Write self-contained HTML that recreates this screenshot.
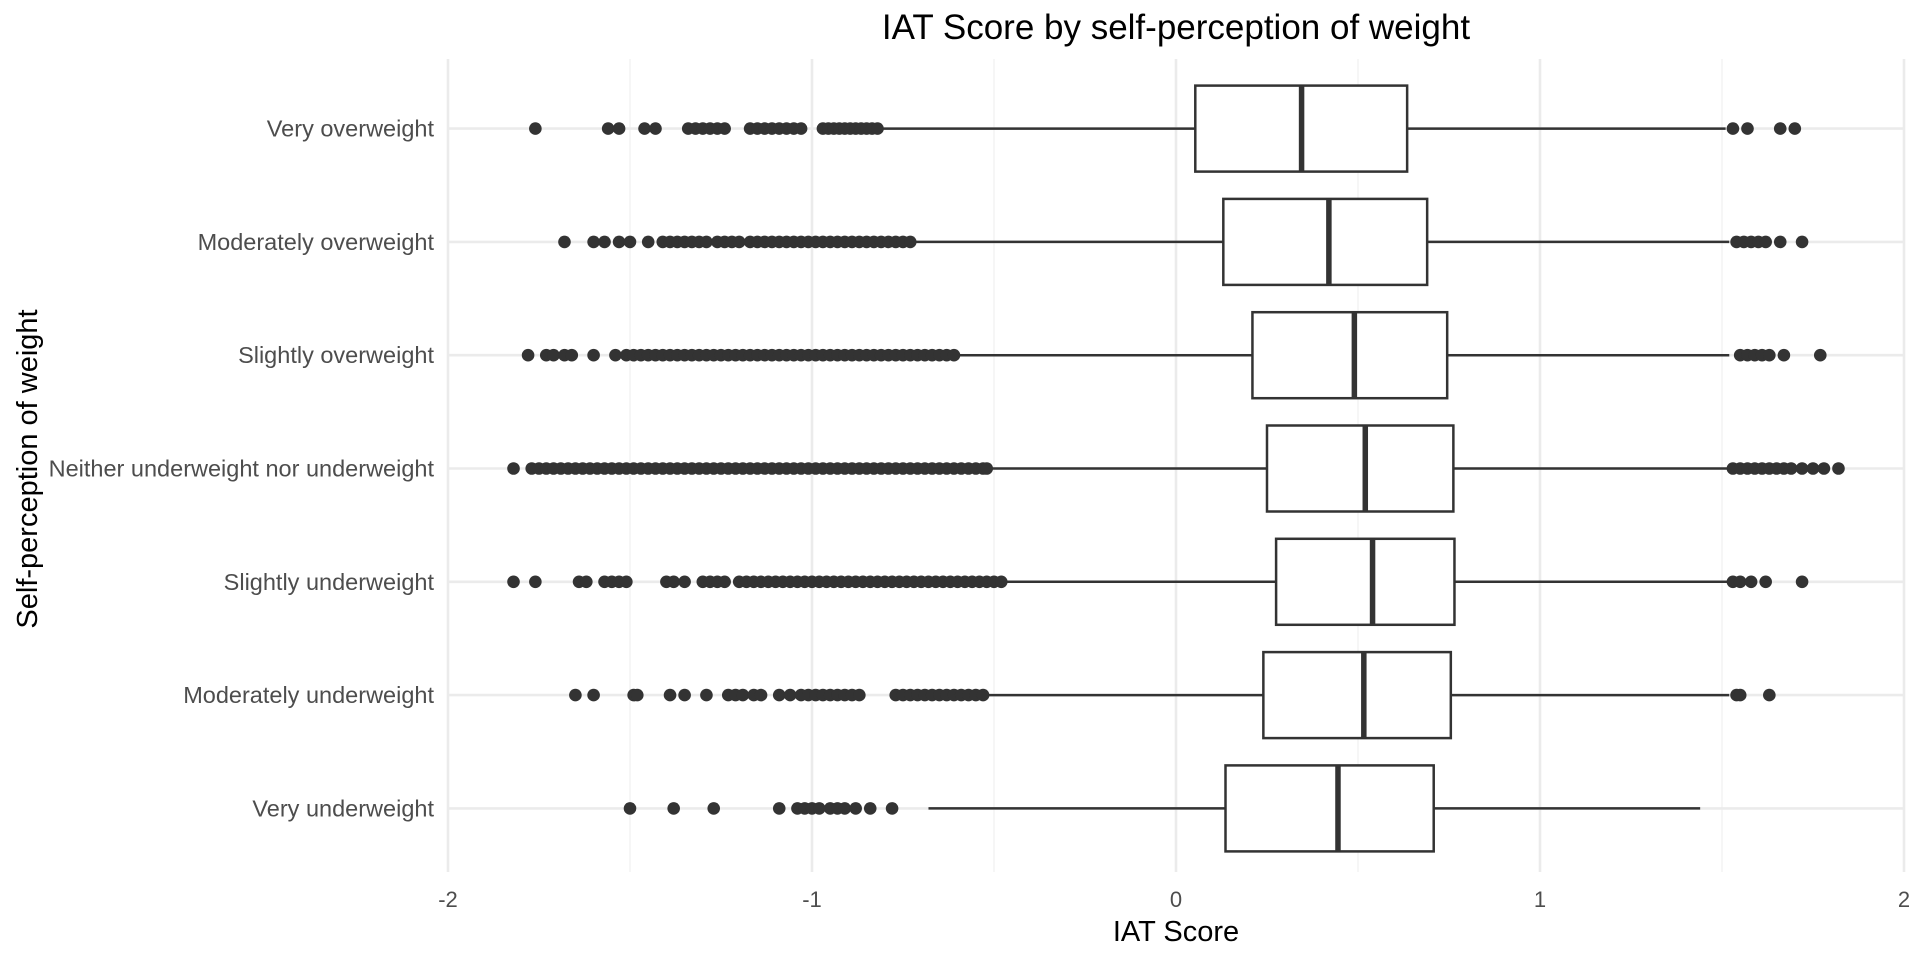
<!DOCTYPE html>
<html><head><meta charset="utf-8">
<style>
html,body{margin:0;padding:0;background:#fff;}
svg text{font-family:"Liberation Sans",Arial,sans-serif;}
</style></head>
<body>
<svg id="chart" width="1920" height="960" viewBox="0 0 1920 960" xmlns="http://www.w3.org/2000/svg">
<text x="1176" y="39" font-size="35" text-anchor="middle" fill="#000">IAT Score by self-perception of weight</text>
<text x="1176" y="941" font-size="29" text-anchor="middle" fill="#000">IAT Score</text>
<text x="0" y="0" font-size="29" text-anchor="middle" fill="#000" transform="translate(37,469) rotate(-90)">Self-perception of weight</text>
<g id="grid"></g><g id="marks"></g><g id="axes"></g>
</svg>
<script>
const categories = ["Very overweight","Moderately overweight","Slightly overweight","Neither underweight nor underweight","Slightly underweight","Moderately underweight","Very underweight"];
const q1 = [0.053,0.13,0.21,0.25,0.275,0.24,0.136];
const medians = [0.345,0.42,0.49,0.52,0.54,0.516,0.445];
const q3 = [0.635,0.69,0.745,0.762,0.765,0.755,0.708];
const whiskerLow = [-0.81,-0.72,-0.6,-0.51,-0.466,-0.52,-0.68];
const whiskerHigh = [1.51,1.52,1.52,1.52,1.52,1.52,1.44];
const outliers0 = [-1.76,-1.56,-1.53,-1.46,-1.43,-1.34,-1.32,-1.30,-1.28,-1.26,-1.24,-1.17,-1.15,-1.13,-1.11,-1.09,-1.07,-1.05,-1.03,-0.97,-0.955,-0.94,-0.925,-0.91,-0.895,-0.88,-0.865,-0.85,-0.835,-0.82,1.53,1.57,1.66,1.70];
const outliers1 = [-1.68,-1.60,-1.57,-1.53,-1.50,-1.45,-1.41,-1.39,-1.37,-1.35,-1.33,-1.31,-1.29,-1.26,-1.24,-1.22,-1.20,-1.17,-1.15,-1.13,-1.11,-1.09,-1.07,-1.05,-1.03,-1.01,-0.99,-0.97,-0.95,-0.93,-0.91,-0.89,-0.87,-0.85,-0.83,-0.81,-0.79,-0.77,-0.75,-0.73,1.54,1.56,1.58,1.60,1.62,1.66,1.72];
const outliers2 = [-1.78,-1.73,-1.71,-1.68,-1.66,-1.60,-1.54,-1.51,-1.49,-1.47,-1.45,-1.43,-1.41,-1.39,-1.37,-1.35,-1.33,-1.31,-1.29,-1.27,-1.25,-1.23,-1.21,-1.19,-1.17,-1.15,-1.13,-1.11,-1.09,-1.07,-1.05,-1.03,-1.01,-0.99,-0.97,-0.95,-0.93,-0.91,-0.89,-0.87,-0.85,-0.83,-0.81,-0.79,-0.77,-0.75,-0.73,-0.71,-0.69,-0.67,-0.65,-0.63,-0.61,1.55,1.57,1.59,1.61,1.63,1.67,1.77];
const outliers3 = [-1.82,-1.77,-1.75,-1.73,-1.71,-1.69,-1.67,-1.65,-1.63,-1.61,-1.59,-1.57,-1.55,-1.53,-1.51,-1.49,-1.47,-1.45,-1.43,-1.41,-1.39,-1.37,-1.35,-1.33,-1.31,-1.29,-1.27,-1.25,-1.23,-1.21,-1.19,-1.17,-1.15,-1.13,-1.11,-1.09,-1.07,-1.05,-1.03,-1.01,-0.99,-0.97,-0.95,-0.93,-0.91,-0.89,-0.87,-0.85,-0.83,-0.81,-0.79,-0.77,-0.75,-0.73,-0.71,-0.69,-0.67,-0.65,-0.63,-0.61,-0.59,-0.57,-0.55,-0.53,-0.52,1.53,1.55,1.57,1.59,1.61,1.63,1.65,1.67,1.69,1.72,1.75,1.78,1.82];
const outliers4 = [-1.82,-1.76,-1.64,-1.62,-1.57,-1.55,-1.53,-1.51,-1.40,-1.38,-1.35,-1.30,-1.28,-1.26,-1.24,-1.20,-1.18,-1.16,-1.14,-1.12,-1.10,-1.08,-1.06,-1.04,-1.02,-1.00,-0.98,-0.96,-0.94,-0.92,-0.90,-0.88,-0.86,-0.84,-0.82,-0.80,-0.78,-0.76,-0.74,-0.72,-0.70,-0.68,-0.66,-0.64,-0.62,-0.60,-0.58,-0.56,-0.54,-0.52,-0.50,-0.48,1.53,1.55,1.58,1.62,1.72];
const outliers5 = [-1.65,-1.60,-1.49,-1.48,-1.39,-1.35,-1.29,-1.23,-1.21,-1.19,-1.16,-1.14,-1.09,-1.06,-1.03,-1.01,-0.99,-0.97,-0.95,-0.93,-0.91,-0.89,-0.87,-0.77,-0.75,-0.73,-0.71,-0.69,-0.67,-0.65,-0.63,-0.61,-0.59,-0.57,-0.55,-0.53,1.54,1.55,1.63];
const outliers6 = [-1.50,-1.38,-1.27,-1.09,-1.04,-1.02,-1.00,-0.98,-0.95,-0.93,-0.91,-0.88,-0.84,-0.78];
const outliers = [outliers0,outliers1,outliers2,outliers3,outliers4,outliers5,outliers6];
const xTicks = [-2,-1,0,1,2];
const xTickLabels = ["-2","-1","0","1","2"];
const xMinor = [-1.5,-0.5,0.5,1.5];

const NS="http://www.w3.org/2000/svg";
const X0=448,X1=1904,YT=59,YB=872,ROW0=128.6,ROWSTEP=113.3,HB=43;
function xs(v){return X0+(v+2)/4*(X1-X0);}
function ys(i){return ROW0+i*ROWSTEP;}
function mk(t,a,p){const e=document.createElementNS(NS,t);for(const k in a)e.setAttribute(k,a[k]);p.appendChild(e);return e;}
const grid=document.getElementById('grid'),marks=document.getElementById('marks'),axes=document.getElementById('axes');
xMinor.forEach(v=>{const l=mk('line',{x1:xs(v),x2:xs(v),y1:YT,y2:YB,stroke:'#f2f2f2','stroke-width':1.4},grid);

});
xTicks.forEach((v,i)=>{const l=mk('line',{x1:xs(v),x2:xs(v),y1:YT,y2:YB,stroke:'#ebebeb','stroke-width':2.6},grid);


const t=mk('text',{x:xs(v),y:907,'font-size':22,'text-anchor':'middle',fill:'#4d4d4d'},axes);t.textContent=xTickLabels[i];

});
categories.forEach((c,i)=>{const y=ys(i);
const g=mk('line',{x1:X0,x2:X1,y1:y,y2:y,stroke:'#ebebeb','stroke-width':2.6},grid);


const t=mk('text',{x:434,y:y+8,'font-size':23.5,'text-anchor':'end',fill:'#4d4d4d'},axes);t.textContent=c;


const grp=mk('g',{},marks);


const w1=mk('line',{x1:xs(whiskerLow[i]),x2:xs(q1[i]),y1:y,y2:y,stroke:'#333','stroke-width':2.5},grp);


const w2=mk('line',{x1:xs(q3[i]),x2:xs(whiskerHigh[i]),y1:y,y2:y,stroke:'#333','stroke-width':2.5},grp);


const r=mk('rect',{x:xs(q1[i]),y:y-HB,width:xs(q3[i])-xs(q1[i]),height:2*HB,fill:'#fff',stroke:'#333','stroke-width':2.5},grp);


const m=mk('line',{x1:xs(medians[i]),x2:xs(medians[i]),y1:y-HB,y2:y+HB,stroke:'#333','stroke-width':5.5},grp);


outliers[i].forEach(v=>{const p=mk('circle',{cx:xs(v),cy:y,r:6.3,fill:'#333'},grp);

});
});
</script>
</body></html>
